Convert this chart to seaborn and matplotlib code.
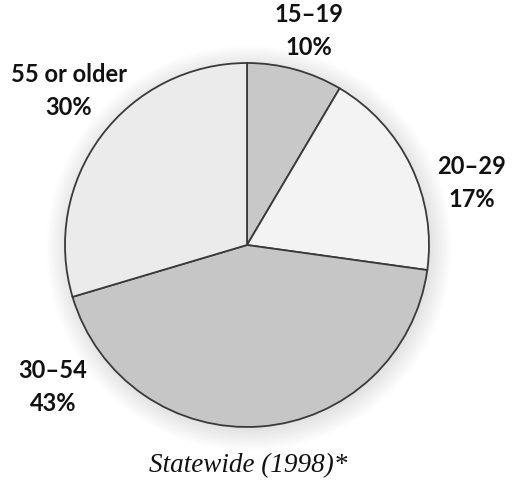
import matplotlib
matplotlib.use("Agg")
import matplotlib.pyplot as plt
import seaborn as sns

# age groups, printed shares and the wedge sizes as drawn in the picture
age_groups = ["15\u201319", "20\u201329", "30\u201354", "55 or older"]
pct_labels = ["10%", "17%", "43%", "30%"]
wedge_sizes = [8.5, 18.7, 43.2, 29.6]
wedge_colors = ["#c8c8c8", "#f3f3f3", "#c6c6c6", "#ebebeb"]

sns.set_theme(style="white")
plt.rcParams["font.family"] = ["Lato", "DejaVu Sans"]

fig = plt.figure(figsize=(5.13, 4.80), dpi=100)
ax = fig.add_axes([0, 0, 1, 1])

cx, cy, r = 247, 235, 182

# faint soft shadow round the pie
for i in range(14):
    ax.add_patch(plt.Circle((cx + 2, cy - 3), r + i * 1.6, color="black",
                            alpha=0.006, lw=0, zorder=0))

ax.pie(
    wedge_sizes,
    colors=wedge_colors,
    center=(cx, cy),
    radius=r,
    startangle=90,
    counterclock=False,
    wedgeprops=dict(edgecolor="#3a3a3a", linewidth=1.3),
    frame=True,
)
ax.set_xlim(0, 513)
ax.set_ylim(0, 480)
ax.set_aspect("equal")
ax.axis("off")

# label positions (pixels, y from bottom)
label_pos = [(309, 449), (472, 297), (53, 93), (69, 389)]
for grp, pct, (x, y) in zip(age_groups, pct_labels, label_pos):
    ax.text(x, y, f"{grp}\n{pct}", ha="center", va="center",
            fontsize=17, fontweight="bold", color="#111111",
            linespacing=1.5)

ax.text(248, 8, "Statewide (1998)*", ha="center", va="baseline",
        fontsize=19.5, style="italic", family=["Liberation Serif", "DejaVu Serif"],
        color="#111111")

fig.savefig("out.png", dpi=100)
